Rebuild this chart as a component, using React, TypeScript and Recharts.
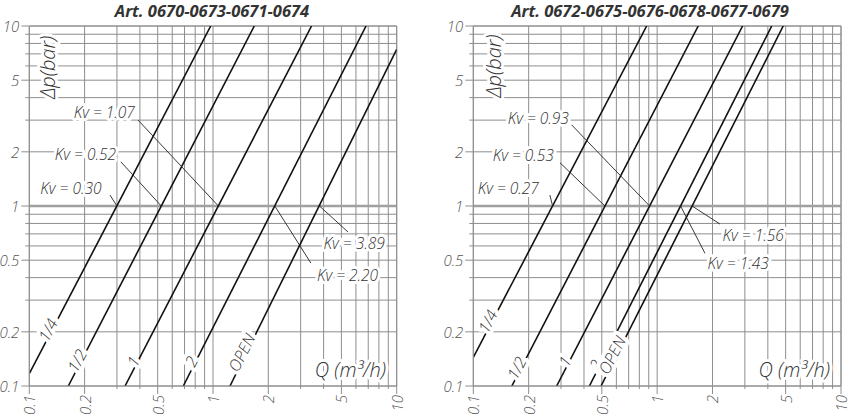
import React from 'react';
import {
  LineChart,
  Line,
  XAxis,
  YAxis,
  CartesianGrid,
  ReferenceLine,
  ReferenceDot,
} from 'recharts';

// grid + tick values (same for both axes, both charts)
const gridQ = [0.1, 0.2, 0.3, 0.4, 0.5, 0.6, 0.7, 0.8, 0.9, 1, 2, 3, 4, 5, 6, 7, 8, 9, 10];
const gridDp = [0.1, 0.2, 0.3, 0.4, 0.5, 0.6, 0.7, 0.8, 0.9, 1, 2, 3, 4, 5, 6, 7, 8, 9, 10];
const labelledQ = [0.1, 0.2, 0.5, 1, 2, 5, 10];
const labelledDp = [0.1, 0.2, 0.5, 1, 2, 5, 10];

const openings = ['1/4', '1/2', '1', '2', 'OPEN'];

// left chart
const leftTitle = 'Art. 0670-0673-0671-0674';
const leftKv = ['0.30', '0.52', '1.07', '2.20', '3.89'];
const leftStart = [[0.1, 0.117], [0.163, 0.1], [0.332, 0.1], [0.689, 0.1], [1.237, 0.1]];
const leftEnd = [[0.972, 10], [1.678, 10], [3.44, 10], [6.81, 10], [10, 7.42]];
const leftOpeningAt = [[0.132, 0.2], [0.19, 0.135], [0.385, 0.134], [0.797, 0.134], [1.5, 0.15]];
const leftKvAt = [[0.1686, 1.267], [0.202, 1.945], [0.256, 3.34], [5.4, 0.414], [5.87, 0.621]];
const leftLeaderFrom = [[0.275, 1.15], [0.315, 1.76], [0.391, 3.0], [3.41, 0.482], [5.43, 0.717]];
const leftLeaderTo = [[0.3, 1], [0.523, 1], [1.07, 1], [2.17, 1], [3.8, 1]];

// right chart
const rightTitle = 'Art. 0672-0675-0676-0678-0677-0679';
const rightKv = ['0.27', '0.53', '0.93', '1.43', '1.56'];
const rightStart = [[0.1, 0.144], [0.162, 0.1], [0.284, 0.1], [0.428, 0.1], [0.495, 0.1]];
const rightEnd = [[0.877, 10], [1.673, 10], [2.917, 10], [4.2, 10], [4.85, 10]];
const rightOpeningAt = [[0.125, 0.223], [0.18, 0.123], [0.329, 0.134], [0.484, 0.128], [0.595, 0.145]];
const rightKvAt = [[0.155, 1.254], [0.187, 1.92], [0.2257, 3.1], [2.76, 0.48], [3.33, 0.686]];
const rightLeaderFrom = [[0.261, 1.15], [0.296, 1.74], [0.343, 2.82], [1.82, 0.546], [2.195, 0.794]];
const rightLeaderTo = [[0.27, 1], [0.52, 1], [0.91, 1], [1.341, 1], [1.549, 1]];

const FONT = "'Open Sans', 'DejaVu Sans', sans-serif";
const GRID = '#8e8e8e';
const INK = '#333';
const halo = (w: number) => ({
  stroke: '#fff',
  strokeWidth: w,
  paintOrder: 'stroke' as const,
  strokeLinejoin: 'round' as const,
});
const italic = { fontFamily: FONT, fontStyle: 'italic', fontWeight: 300 };

const QTick = (props: any) => {
  const { x, y, payload } = props;
  const v = payload.value;
  const major = labelledQ.includes(v);
  return (
    <g>
      <line x1={x} y1={y} x2={x} y2={y + (major ? 8 : 3)} stroke={GRID} />
      {major && (
        <text
          x={x}
          y={y + 9}
          transform={`rotate(-90 ${x} ${y + 9})`}
          textAnchor="end"
          dominantBaseline="central"
          {...italic}
          fontSize={15}
          fill="#555"
        >
          {String(v)}
        </text>
      )}
    </g>
  );
};

const DpTick = (props: any) => {
  const { x, y, payload } = props;
  const v = payload.value;
  const major = labelledDp.includes(v);
  return (
    <g>
      <line x1={x} y1={y} x2={x - (major ? 8 : 4)} y2={y} stroke={GRID} />
      {major && (
        <text x={x - 10} y={y} textAnchor="end" dominantBaseline="central" {...italic} fontSize={15} fill="#555">
          {String(v)}
        </text>
      )}
    </g>
  );
};

interface PanelProps {
  title: string;
  titleLeft: number;
  width: number;
  axisWidth: number;
  marginRight: number;
  kv: string[];
  start: number[][];
  end: number[][];
  openingAt: number[][];
  kvAt: number[][];
  leaderFrom: number[][];
  leaderTo: number[][];
  dpLabelAt: number[];
  qLabelAt: number[];
}

function Panel(p: PanelProps) {
  const margin = { top: 26, right: p.marginRight, left: 0, bottom: 0 };
  const series = p.start.map((s, i) => [
    { q: s[0], dp: s[1] },
    { q: p.end[i][0], dp: p.end[i][1] },
  ]);
  const xAxisCommon = {
    type: 'number' as const,
    dataKey: 'q',
    scale: 'log' as const,
    domain: [0.1, 10],
    ticks: gridQ,
    interval: 0,
    allowDataOverflow: true,
    tickLine: false,
    tickSize: 0,
    tickMargin: 0,
    height: 34,
  };
  const yAxisCommon = {
    type: 'number' as const,
    scale: 'log' as const,
    domain: [0.1, 10],
    ticks: gridDp,
    interval: 0,
    allowDataOverflow: true,
    tickLine: false,
    tickSize: 0,
    tickMargin: 0,
    width: p.axisWidth,
  };
  return (
    <div style={{ position: 'relative', width: p.width, height: 420 }}>
      {/* base layer: grid, curves, leader lines */}
      <div style={{ position: 'absolute', left: 0, top: 0 }}>
        <LineChart width={p.width} height={420} margin={margin}>
          <CartesianGrid stroke={GRID} />
          <XAxis {...xAxisCommon} tick={<QTick />} axisLine={{ stroke: GRID }} />
          <YAxis {...yAxisCommon} tick={<DpTick />} axisLine={{ stroke: GRID }} />
          <ReferenceLine y={1} stroke="#a0a0a0" strokeWidth={2.5} />
          <ReferenceLine y={10} stroke={GRID} />
          <ReferenceLine x={10} stroke={GRID} />
          {series.map((d, i) => (
            <Line
              key={'l' + i}
              data={d}
              dataKey="dp"
              type="linear"
              stroke="#111"
              strokeWidth={1.6}
              dot={false}
              activeDot={false}
              isAnimationActive={false}
            />
          ))}
          {p.leaderFrom.map((f, i) => (
            <ReferenceLine
              key={'ld' + i}
              segment={[
                { x: f[0], y: f[1] },
                { x: p.leaderTo[i][0], y: p.leaderTo[i][1] },
              ]}
              stroke="#222"
              strokeWidth={0.9}
            />
          ))}
        </LineChart>
      </div>
      {/* text layer, same scales, drawn on top so the white halos cut the lines */}
      <div style={{ position: 'absolute', left: 0, top: 0 }}>
        <LineChart width={p.width} height={420} margin={margin}>
          <XAxis {...xAxisCommon} tick={false} axisLine={false} />
          <YAxis {...yAxisCommon} tick={false} axisLine={false} />
          <Line data={series[0]} dataKey="dp" stroke="none" dot={false} activeDot={false} isAnimationActive={false} />
          {p.openingAt.map((a, i) => (
            <ReferenceDot
              key={'o' + i}
              x={a[0]}
              y={a[1]}
              shape={(d: any) => (
                <text
                  x={d.cx}
                  y={d.cy}
                  dy="0.12em"
                  transform={`rotate(-63 ${d.cx} ${d.cy})`}
                  textAnchor="middle"
                  {...italic}
                  fontSize={16}
                  fill={INK}
                  {...halo(8)}
                >
                  {openings[i]}
                </text>
              )}
            />
          ))}
          {p.kvAt.map((a, i) => (
            <ReferenceDot
              key={'k' + i}
              x={a[0]}
              y={a[1]}
              shape={(d: any) => (
                <text
                  x={d.cx}
                  y={d.cy}
                  textAnchor="middle"
                  dominantBaseline="central"
                  {...italic}
                  fontSize={15.5}
                  fill={INK}
                  {...halo(6)}
                >
                  {'Kv = ' + p.kv[i]}
                </text>
              )}
            />
          ))}
          <ReferenceDot
            x={p.dpLabelAt[0]}
            y={p.dpLabelAt[1]}
            shape={(d: any) => (
              <text
                x={d.cx}
                y={d.cy}
                transform={`rotate(-90 ${d.cx} ${d.cy})`}
                textAnchor="middle"
                dominantBaseline="central"
                {...italic}
                fontSize={20}
                fill={INK}
                {...halo(6)}
              >
                Δp(bar)
              </text>
            )}
          />
          <ReferenceDot
            x={p.qLabelAt[0]}
            y={p.qLabelAt[1]}
            shape={(d: any) => (
              <text x={d.cx} y={d.cy} textAnchor="end" {...italic} fontSize={20} fill={INK} {...halo(6)}>
                Q (m³/h)
              </text>
            )}
          />
        </LineChart>
      </div>
      <div
        style={{
          position: 'absolute',
          top: 0,
          left: p.titleLeft,
          width: 400,
          textAlign: 'center',
          fontFamily: FONT,
          fontStyle: 'italic',
          fontWeight: 700,
          fontSize: 16.5,
          lineHeight: '22px',
          color: INK,
          whiteSpace: 'nowrap',
        }}
      >
        {p.title}
      </div>
    </div>
  );
}

export default function App() {
  return (
    <div style={{ position: 'absolute', left: 0, top: 0, width: 851, height: 420, background: '#fff' }}>
      <div style={{ position: 'absolute', left: 0, top: 0 }}>
        <Panel
          title={leftTitle}
          titleLeft={12}
          width={420}
          axisWidth={29.3}
          marginRight={23.3}
          kv={leftKv}
          start={leftStart}
          end={leftEnd}
          openingAt={leftOpeningAt}
          kvAt={leftKvAt}
          leaderFrom={leftLeaderFrom}
          leaderTo={leftLeaderTo}
          dpLabelAt={[0.1264, 5.9]}
          qLabelAt={[8.75, 0.1126]}
        />
      </div>
      <div style={{ position: 'absolute', left: 425, top: 0 }}>
        <Panel
          title={rightTitle}
          titleLeft={25}
          width={426}
          axisWidth={48.3}
          marginRight={10}
          kv={rightKv}
          start={rightStart}
          end={rightEnd}
          openingAt={rightOpeningAt}
          kvAt={rightKvAt}
          leaderFrom={rightLeaderFrom}
          leaderTo={rightLeaderTo}
          dpLabelAt={[0.1285, 6.0]}
          qLabelAt={[8.7, 0.1126]}
        />
      </div>
    </div>
  );
}
